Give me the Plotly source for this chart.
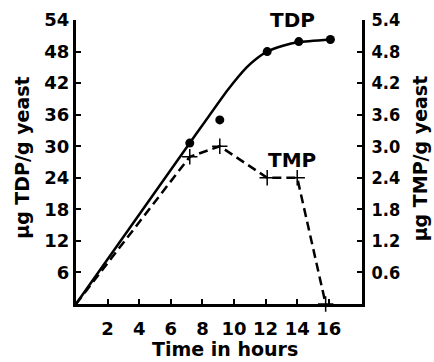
import plotly.graph_objects as go

# --- data ---
tdp_hours = [7.2, 9.1, 12.1, 14.1, 16.1]
tdp_ug = [30.6, 35.0, 48.0, 49.9, 50.3]           # µg TDP / g yeast (left axis)

# smooth hand-drawn TDP curve (knots)
tdp_curve_hours = [0, 7.2, 9.6, 10.8, 11.4, 12.1, 13.1, 14.1, 16.1]
tdp_curve_ug = [0, 30.6, 40.7, 45.0, 46.6, 48.0, 49.1, 49.8, 50.3]

tmp_hours = [0, 7.2, 9.1, 12.1, 14.0, 15.8]
tmp_ug = [0, 2.8, 3.0, 2.4, 2.4, 0.0]             # µg TMP / g yeast (right axis)

x_ticks = [2, 4, 6, 8, 10, 12, 14, 16]
left_ticks = [6, 12, 18, 24, 30, 36, 42, 48, 54]
right_ticks = [0.6, 1.2, 1.8, 2.4, 3.0, 3.6, 4.2, 4.8, 5.4]
right_tick_text = ["0.6", "1.2", "1.8", "2.4", "3.0", "3.6", "4.2", "4.8", "5.4"]

FONT = "DejaVu Sans"
FONT_NARROW = "DejaVu Sans Condensed"
BLACK = "#000000"

fig = go.Figure()

fig.add_trace(go.Scatter(
    x=tdp_curve_hours, y=tdp_curve_ug, mode="lines",
    line=dict(color=BLACK, width=2.5, shape="spline", smoothing=0.5),
    hoverinfo="skip", showlegend=False, cliponaxis=False))
fig.add_trace(go.Scatter(
    x=tdp_hours, y=tdp_ug, mode="markers",
    marker=dict(color=BLACK, size=9, symbol="circle"),
    showlegend=False, cliponaxis=False))

fig.add_trace(go.Scatter(
    x=tmp_hours, y=tmp_ug, mode="lines", yaxis="y2",
    line=dict(color=BLACK, width=2.5, dash="9px,5px"),
    showlegend=False, cliponaxis=False))
fig.add_trace(go.Scatter(
    x=tmp_hours[1:], y=tmp_ug[1:], mode="markers", yaxis="y2",
    marker=dict(symbol="cross-thin", size=11, line=dict(color=BLACK, width=1.5)),
    showlegend=False, cliponaxis=False))

axis_font = dict(family=FONT, size=18, color=BLACK, weight="bold")
narrow_font = dict(family=FONT_NARROW, size=18, color=BLACK, weight="bold")
title_font = dict(family=FONT, size=19, color=BLACK, weight="bold")
label_font = dict(family=FONT, size=20, color=BLACK, weight="bold")

common = dict(ticks="inside", ticklen=5, tickwidth=2, tickcolor=BLACK,
              showline=True, linecolor=BLACK, linewidth=3, showgrid=False,
              zeroline=False, automargin=False)

fig.update_layout(
    width=434, height=362,
    margin=dict(l=76, r=72, t=20, b=58),
    paper_bgcolor="white", plot_bgcolor="white",
    font=dict(family=FONT, color=BLACK),
    xaxis=dict(range=[0, 18.1], tickvals=x_ticks, tickfont=axis_font,
               ticklabelstandoff=6, **common),
    yaxis=dict(range=[0, 54], tickvals=left_ticks, tickfont=axis_font,
               ticklabelstandoff=0, **common),
    yaxis2=dict(range=[0, 5.4], tickvals=right_ticks, ticktext=right_tick_text,
                overlaying="y", side="right", tickfont=narrow_font,
                ticklabelstandoff=3, **common),
    annotations=[
        dict(x=0.521, y=-0.158, xref="paper", yref="paper", text="Time in hours",
             showarrow=False, font=title_font, xanchor="center", yanchor="middle"),
        dict(x=-0.189, y=0.518, xref="paper", yref="paper", text="μg TDP/g yeast",
             showarrow=False, font=title_font, textangle=-90,
             xanchor="center", yanchor="middle"),
        dict(x=1.204, y=0.514, xref="paper", yref="paper", text="μg TMP/g yeast",
             showarrow=False, font=title_font, textangle=-90,
             xanchor="center", yanchor="middle"),
        dict(x=13.7, y=54.0, xref="x", yref="y", text="TDP", showarrow=False,
             font=label_font),
        dict(x=13.7, y=27.3, xref="x", yref="y", text="TMP", showarrow=False,
             font=label_font),
    ],
)

fig.write_html("out.html")
